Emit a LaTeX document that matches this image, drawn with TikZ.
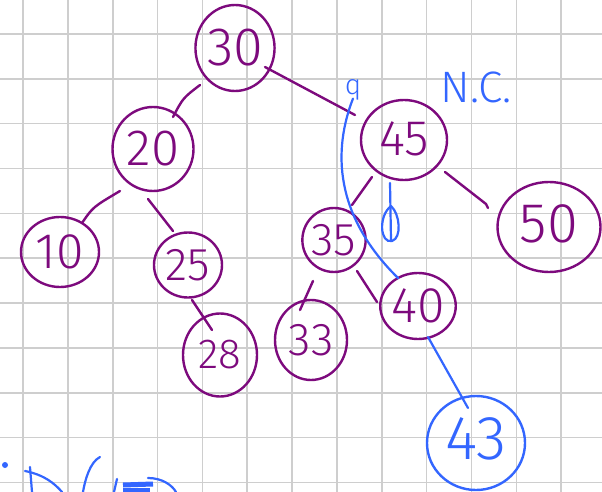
\documentclass[tikz,border=0pt]{standalone}
\usepackage{fontspec}
\setmainfont{Liberation Sans}
\newfontfamily\hand{Fira Sans Light}
\usetikzlibrary{shapes.geometric,calc}
\definecolor{pur}{RGB}{125,10,125}
\definecolor{pen}{RGB}{51,102,255}
\definecolor{gridgray}{RGB}{206,206,206}
\tikzset{
  gridline/.style={draw=gridgray, line width=1.6pt},
  tnode/.style={ellipse, draw=pur, text=pur, line width=2.4pt, inner sep=0pt},
  bnode/.style={tnode, draw=pen, text=pen},
  fs/.style={font=\hand\fontsize{#1}{#1}\selectfont},
  edge/.style={draw=pur, line width=2.4pt, line cap=round},
  bedge/.style={draw=pen, line width=2.2pt, line cap=round},
}
\begin{document}
\begin{tikzpicture}[x=1pt, y=-1pt]
\useasboundingbox (0,0) rectangle (602,492);
\fill[white] (0,0) rectangle (602,492);

% squared paper
\foreach \i in {0,...,12}
  \draw[gridline] ({23+44.85*\i},0) -- ({23+44.85*\i},492);
\foreach \j in {0,...,10}
  \draw[gridline] (0,{34+44.85*\j}) -- (602,{34+44.85*\j});

% tree nodes
\node[tnode, fs=54, minimum width=76pt, minimum height=86pt] (n30) at (235,48) {30};
\node[tnode, fs=51, minimum width=81pt, minimum height=84pt] (n20) at (153,149) {20};
\node[tnode, fs=50, minimum width=78pt, minimum height=70pt] (n10) at (60,252) {10};
\node[tnode, fs=46, minimum width=68pt, minimum height=65pt] (n25) at (188,265) {25};
\node[tnode, fs=42, minimum width=74pt, minimum height=83pt] (n28) at (220,355) {28};
\node[tnode, fs=50, minimum width=86pt, minimum height=80pt] (n45) at (404,140) {\raisebox{3pt}{45}};
\node[tnode, fs=56, minimum width=103pt, minimum height=90pt] (n50) at (549,227) {\raisebox{6pt}{50}};
\node[tnode, fs=46, minimum width=62pt, minimum height=64pt] (n35) at (334,240) {35};
\node[tnode, fs=50, minimum width=64pt, minimum height=66pt] (n40) at (418,306) {40};
\node[tnode, fs=46, minimum width=72pt, minimum height=80pt] (n33) at (311,340) {33};
\node[bnode, fs=62, minimum width=98pt, minimum height=94pt] (n43) at (476,443) {\raisebox{8pt}{43}};

% tree edges
\draw[edge] ($(n30)+(30,19)$) -- ($(n45)+(-49,-25)$);
\draw[edge] ($(n30)+(-35,37)$) .. controls ($(n30)+(-52,50)$) .. ($(n20)+(20,-32)$);
\draw[edge] ($(n20)+(-33,42)$) .. controls ($(n20)+(-60,58)$) .. ($(n10)+(22,-29)$);
\draw[edge] ($(n20)+(-5,50)$) -- ($(n25)+(-15,-34)$);
\draw[edge] ($(n25)+(4,35)$) -- ($(n28)+(-8,-25)$);
\draw[edge] ($(n45)+(-32,37)$) -- ($(n35)+(18,-35)$);
\draw[edge] ($(n45)+(41,32)$) -- ($(n50)+(-63,-23)$) -- ($(n50)+(-61,-19)$);
\draw[edge] ($(n35)+(-21,41)$) -- ($(n33)+(-11,-30)$);
\draw[edge] ($(n35)+(23,31)$) -- ($(n40)+(-41,-4)$);
\draw[bedge] ($(n40)+(10,31)$) -- ($(n43)+(-8,-35)$);

% pen notes
\node[text=pen, fs=28, inner sep=0pt] (qlbl) at (353,90) {q};
\draw[bedge] ($(qlbl.south)+(0,-2)$) .. controls (333,150) and (334,215) .. ($(n40)+(-20,-28)$);
\node[text=pen, fs=44, inner sep=0pt] (nc) at (476,87) {N.C.};
\draw[bedge] ($(n45)+(-14,43)$) -- ($(n45)+(-13,100)$);
\draw[bedge] ($(n45)+(-13,66)$) .. controls ($(n45)+(-26,76)$) and ($(n45)+(-24,104)$) .. ($(n45)+(-12,101)$)
  .. controls ($(n45)+(-2,98)$) and ($(n45)+(-4,74)$) .. ($(n45)+(-13,66)$);

% cut-off writing along the lower edge
\fill[pen] (5,465) circle (3pt);
\draw[bedge] (30,467) -- (32,492);
\draw[bedge] (25,471) .. controls (45,475) and (55,484) .. (62,492);
\draw[bedge] (100,457) .. controls (90,462) and (85,480) .. (83,492);
\draw[bedge] (117,479) -- (114,492);
\draw[pen, line width=5pt] (123,485) -- (153,484);
\draw[pen, line width=5pt] (123,490) -- (150,490);
\draw[bedge] (148,478) .. controls (162,478) and (172,485) .. (176,492);
\end{tikzpicture}
\end{document}
